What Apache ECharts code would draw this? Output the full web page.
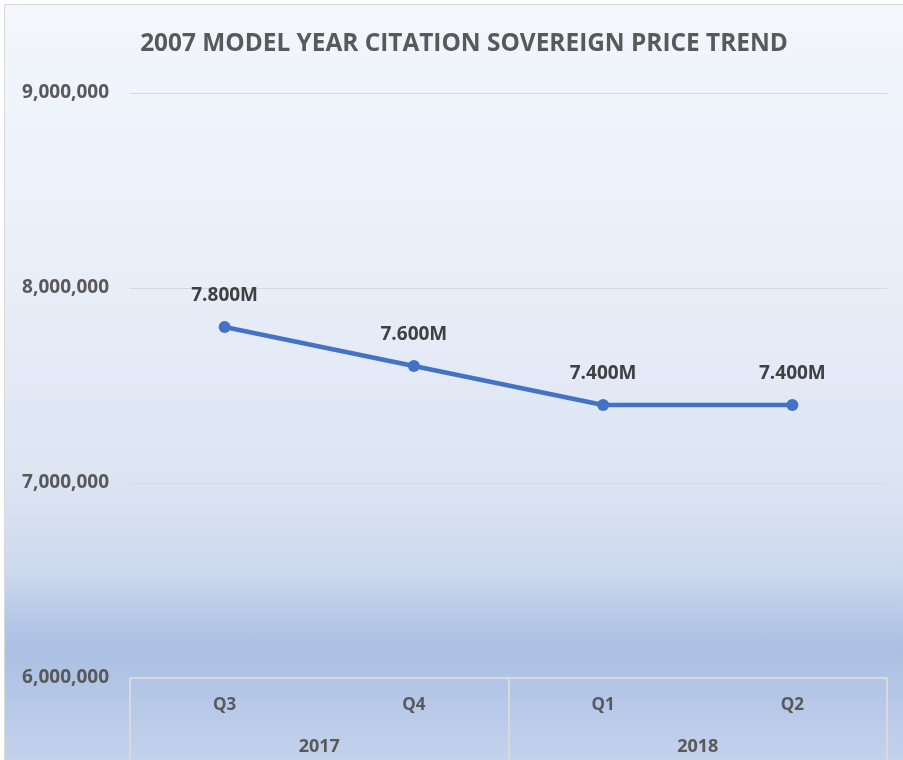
<!DOCTYPE html>
<html>
<head>
<meta charset="utf-8">
<script src="https://cdn.jsdelivr.net/npm/echarts@6/dist/echarts.min.js"></script>
<style>
  html, body { margin: 0; padding: 0; background: #ffffff; }
  #bg {
    position: absolute; left: 4px; top: 4px; width: 899px; height: 756px;
    border-left: 1px solid #d9d9d9; border-top: 1px solid #d9d9d9;
    background: linear-gradient(to bottom,
      #f3f6fc 0px, #eef2fa 150px, #e6ecf7 330px, #dce4f3 480px,
      #cbd8ee 570px, #b3c6e7 620px, #abc0e3 645px, #b4c7e7 690px, #c4d3ec 756px);
  }
  #chart { position: absolute; left: 0; top: 0; width: 903px; height: 760px; }
</style>
</head>
<body>
<div id="bg"></div>
<div id="chart"></div>
<script>
const titleText = '2007 MODEL YEAR CITATION SOVEREIGN PRICE TREND';
const quarters = ['Q3', 'Q4', 'Q1', 'Q2'];
const years = ['2017', '2018'];
const prices = [7800000, 7600000, 7400000, 7400000];
const yMin = 6000000, yMax = 9000000, yStep = 1000000;

const chart = echarts.init(document.getElementById('chart'), null, { renderer: 'canvas' });
const fontFam = '"Open Sans", "Liberation Sans", sans-serif';
chart.setOption({
  backgroundColor: 'transparent',
  animation: false,
  title: {
    text: titleText,
    left: 459, top: 27, textAlign: 'center',
    textStyle: { fontFamily: fontFam, fontSize: 24.4, fontWeight: 'bold', color: '#595959' }
  },
  grid: { left: 130, right: 16, top: 93, bottom: 82, containLabel: false },
  xAxis: [
    {
      type: 'category', data: quarters, position: 'bottom', boundaryGap: true,
      axisLine: { show: true, lineStyle: { color: '#d9d9d9', width: 2 } },
      axisTick: { show: false },
      axisLabel: { margin: 19, fontFamily: fontFam, fontSize: 17, fontWeight: 'bold', color: '#595959' }
    },
    {
      type: 'category', data: years, position: 'bottom', boundaryGap: true,
      axisLine: { show: false },
      axisTick: { show: true, length: 82, lineStyle: { color: '#d9d9d9', width: 2 } },
      axisLabel: { margin: 60, fontFamily: fontFam, fontSize: 18, fontWeight: 'bold', color: '#595959' }
    }
  ],
  yAxis: {
    type: 'value', min: yMin, max: yMax, interval: yStep,
    axisLine: { show: false }, axisTick: { show: false },
    splitLine: { lineStyle: { color: '#d9d9d9', width: 1 } },
    axisLabel: {
      margin: 21, fontFamily: fontFam, fontSize: 19, fontWeight: 'bold', color: '#595959',
      formatter: v => v.toLocaleString('en-US')
    }
  },
  series: [{
    type: 'line', xAxisIndex: 0, data: prices,
    lineStyle: { color: '#4472c4', width: 4.5 },
    itemStyle: { color: '#4472c4' },
    symbol: 'circle', symbolSize: 12,
    label: {
      show: true, position: 'top', distance: 16,
      fontFamily: fontFam, fontSize: 19, fontWeight: 'bold', color: '#404040',
      formatter: p => (p.value / 1e6).toFixed(3) + 'M'
    }
  }]
});
</script>
</body>
</html>
